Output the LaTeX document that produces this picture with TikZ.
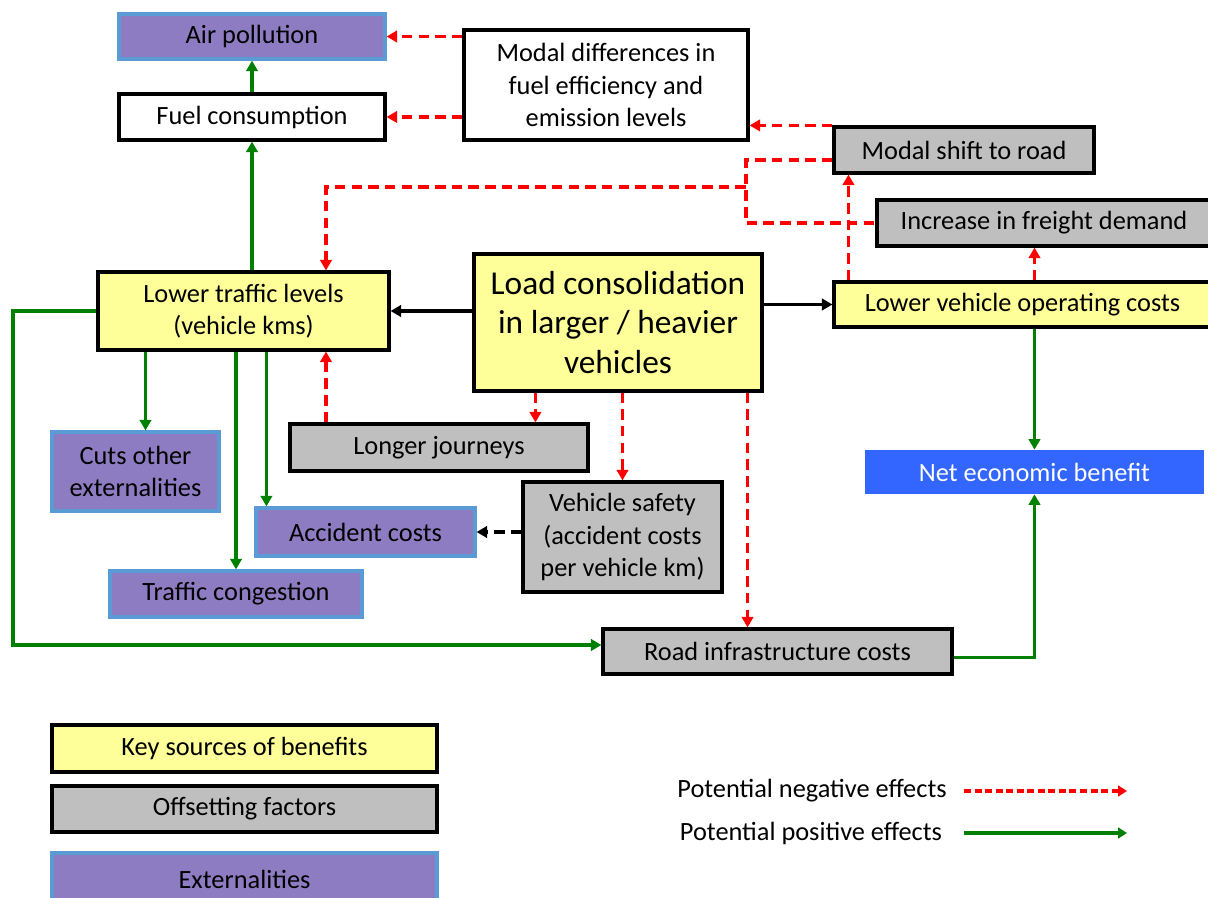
\documentclass[tikz,border=0pt]{standalone}
\usepackage{fontspec}
\setmainfont{Carlito}
\usetikzlibrary{arrows.meta}
\definecolor{keyyellow}{HTML}{FFFF99}
\definecolor{offgray}{HTML}{BFBFBF}
\definecolor{extpurple}{HTML}{8E7CC3}
\definecolor{extblue}{HTML}{5B9BD5}
\definecolor{netblue}{HTML}{3366FF}
\definecolor{posgreen}{HTML}{008000}

\begin{document}
\begin{tikzpicture}[x=0.02cm, y=-0.02cm,
    font=\fontsize{15}{18.4}\selectfont,
    every node/.style={inner sep=2pt, align=center},
    plainbox/.style={draw, line width=1.8pt, fill=white},
    benefitbox/.style={plainbox, fill=keyyellow},
    offsetbox/.style={plainbox, fill=offgray},
    extbox/.style={draw=extblue, line width=1.8pt, fill=extpurple},
    netbox/.style={fill=netblue, text=white},
    goodarrow/.style={draw=posgreen, line width=2.1pt, -{Triangle[length=6pt,width=6.5pt]}},
    badarrow/.style={draw=red, line width=2.1pt, dash pattern=on 6pt off 3.5pt, -{Triangle[length=6pt,width=6.5pt]}},
    linkarrow/.style={draw=black, line width=2.1pt, -{Triangle[length=6pt,width=6.5pt]}}]
  \clip (0,0) rectangle (1208,898);

  % boxes
  \node[extbox, minimum width=5.32cm, minimum height=0.9cm] (air) at (252,36.5) {Air pollution};
  \node[plainbox, minimum width=5.32cm, minimum height=0.92cm] (fuel) at (252,117) {Fuel consumption};
  \node[plainbox, minimum width=5.68cm, minimum height=2.2cm] (modal) at (606,85)
       {Modal differences in\\fuel efficiency and\\emission levels};
  \node[offsetbox, minimum width=5.2cm, minimum height=0.92cm] (shift) at (964,150) {Modal shift to road};
  \node[offsetbox, minimum width=6.68cm, minimum height=0.92cm] (freight) at (1044,223) {Increase in freight demand};
  \node[benefitbox, minimum width=5.82cm, minimum height=1.56cm] (traffic) at (243.5,311)
       {Lower traffic levels\\(vehicle kms)};
  \node[benefitbox, minimum width=5.76cm, minimum height=2.74cm, font=\fontsize{19}{22.7}\selectfont] (load) at (618,322.5)
       {Load consolidation\\in larger / heavier\\vehicles};
  \node[benefitbox, minimum width=7.54cm, minimum height=0.9cm] (opcost) at (1022.5,304.5) {Lower vehicle operating costs};
  \node[offsetbox, minimum width=5.96cm, minimum height=0.94cm] (longer) at (439,447.5) {Longer journeys};
  \node[extbox, minimum width=3.34cm, minimum height=1.58cm] (cuts) at (135.5,471.5) {Cuts other\\externalities};
  \node[offsetbox, minimum width=3.98cm, minimum height=2.2cm] (safety) at (622.5,537)
       {Vehicle safety\\(accident costs\\per vehicle km)};
  \node[extbox, minimum width=4.38cm, minimum height=0.96cm] (accident) at (365.5,532) {Accident costs};
  \node[extbox, minimum width=5.04cm, minimum height=0.92cm] (congestion) at (236,594) {Traffic congestion};
  \node[netbox, minimum width=6.78cm, minimum height=0.88cm] (net) at (1034.5,472) {Net economic benefit};
  \node[offsetbox, minimum width=6.98cm, minimum height=0.9cm] (road) at (777.5,651.5) {Road infrastructure costs};

  % legend
  \node[benefitbox, minimum width=7.7cm, minimum height=0.94cm] (keyleg) at (244.5,748.5) {Key sources of benefits};
  \node[offsetbox, minimum width=7.7cm, minimum height=0.92cm] (offleg) at (244.5,809) {Offsetting factors};
  \node[extbox, minimum width=7.7cm, minimum height=1.04cm] (extleg) at (244.5,879) {Externalities};
  \node (negtext) at (812,791) {Potential negative effects};
  \node (postext) at (811,833) {Potential positive effects};
  \coordinate (negS) at (964,791);
  \coordinate (negE) at (1127,791);
  \coordinate (posS) at (964,833);
  \coordinate (posE) at (1127,833);
  \coordinate (fork) at (746,187);
  \coordinate (rail) at (13,311);

  % positive effects
  \draw[goodarrow] (fuel.north) -- (air.south);
  \draw[goodarrow] (fuel.south |- traffic.north) -- (fuel.south);
  \draw[goodarrow] (net.north |- opcost.south) -- (net.north);
  \draw[goodarrow] ([yshift=-0.12cm]road.east) -| (net.south);
  \draw[goodarrow] (traffic.west) -- (rail) |- ([yshift=0.13cm]road.west);
  \draw[goodarrow] ([xshift=0.2cm]cuts.north |- traffic.south) -- ([xshift=0.2cm]cuts.north);
  \draw[goodarrow] (congestion.north |- traffic.south) -- (congestion.north);
  \draw[goodarrow] ([xshift=0.24cm]accident.north west |- traffic.south) -- ([xshift=0.24cm]accident.north west);

  % negative effects
  \draw[badarrow] (modal.west |- air.east) -- (air.east);
  \draw[badarrow] (modal.west |- fuel.east) -- (fuel.east);
  \draw[badarrow] (shift.north west) -- (shift.north west -| modal.east);
  \draw[badarrow, -] ([yshift=-0.2cm]shift.west) -| (fork) |- (freight.west);
  \draw[badarrow] (fork) -| ([xshift=1.65cm]traffic.north);
  \draw[badarrow] ([xshift=1.65cm]traffic.south |- longer.north) -- ([xshift=1.65cm]traffic.south);
  \draw[badarrow] ([xshift=0.32cm]opcost.north west) -- ([xshift=0.32cm]opcost.north west |- shift.south);
  \draw[badarrow] (net.north |- opcost.north) -- (net.north |- freight.south);
  \draw[badarrow] ([xshift=1.26cm]load.south west) -- ([xshift=1.26cm]load.south west |- longer.north);
  \draw[badarrow] (safety.north |- load.south) -- (safety.north);
  \draw[badarrow] ([xshift=-0.32cm]load.south east) -- ([xshift=-0.32cm]load.south east |- road.north);

  % direct links
  \draw[linkarrow] (load.west |- traffic.east) -- (traffic.east);
  \draw[linkarrow] (load.east |- opcost.west) -- (opcost.west);
  \draw[linkarrow, dash pattern=on 6pt off 3.5pt] (safety.west |- accident.east) -- (accident.east);

  % legend arrows
  \draw[badarrow, dash pattern=on 4pt off 2pt, -{Triangle[length=5pt,width=6pt]}] (negS) -- (negE);
  \draw[goodarrow, -{Triangle[length=5pt,width=6pt]}] (posS) -- (posE);
\end{tikzpicture}
\end{document}
